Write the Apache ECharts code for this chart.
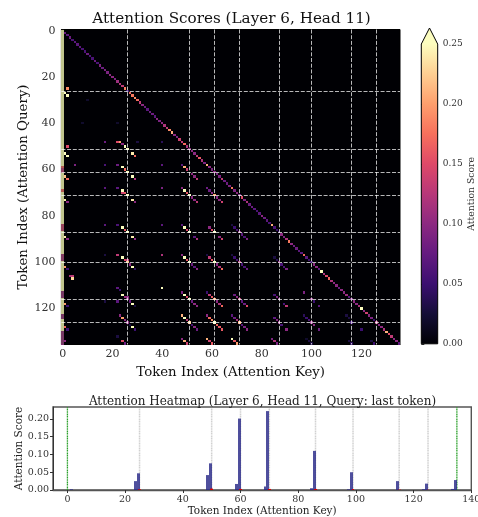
<!DOCTYPE html>
<html>
<head>
<meta charset="utf-8">
<style>
  html, body { margin: 0; padding: 0; background: #fff; }
  #chart { width: 478px; height: 517px; }
</style>
<script src="https://cdn.jsdelivr.net/npm/echarts@6/dist/echarts.min.js"></script>
</head>
<body>
<div id="chart"></div>
<script>
// separators in the heatmap, the bar chart has them one token earlier
const separators = [26, 51, 61, 71, 87, 100, 116, 126];
const barSeparators = [25, 50, 60, 70, 86, 99, 115, 125];
const barMarkers = [0, 135];

// attention of each token on itself
const diagonal = [
  .10, .08, .07, .08, .06, .07, .07, .07, .06, .06,
  .08, .06, .06, .08, .06, .09, .08, .09, .09, .10,
  .10, .09, .11, .12, .13, .18, .05, .17, .18, .19,
  .17, .13, .10, .08, .07, .08, .08, .07, .10, .09,
  .10, .12, .13, .19, .21, .10, .09, .14, .13, .17,
  .12, .10, .10, .10, .13, .16, .12, .09, .21, .10,
  .09, .10, .09, .09, .13, .08, .08, .09, .18, .09,
  .10, .09, .15, .09, .12, .08, .08, .07, .06, .07,
  .10, .08, .07, .06, .21, .06, .05, .05, .10, .09,
  .12, .18, .10, .08, .08, .07, .07, .17, .07, .05,
  .05, .10, .10, .07, .25, .12, .15, .17, .12, .10,
  .10, .08, .10, .10, .11, .07, .09, .10, .10, .12,
  .25, .10, .14, .10, .09, .05, .12, .10, .10, .12,
  .21, .15, .13, .10, .10, .07
];

// first column as [fromRow, toRow, value]
const firstColumn = [
  [0, 58, .25], [59, 59, .16], [60, 61, .12], [62, 68, .25], [69, 69, .16],
  [70, 83, .25], [84, 86, .13], [87, 96, .25], [97, 99, .11], [100, 112, .25],
  [113, 115, .10], [116, 122, .25], [123, 124, .10], [125, 129, .25], [130, 135, .10]
];

// off diagonal cells as [key, query, value], grouped by query rows
const rows25to29 = [[2, 25, .19], [1, 27, .25], [2, 28, .25], [10, 30, .02], [8, 40, .02], [22, 40, .02]];
const rows48to54 = [
  [17, 48, .08], [22, 48, .15], [23, 48, .2], [24, 49, .1], [25, 50, .25], [26, 51, .25],
  [28, 53, .24], [29, 54, .17], [2, 50, .15], [1, 53, .25], [2, 54, .25], [40, 48, .04], [30, 48, .03]
];
const rows58to64 = [
  [5, 58, .09], [17, 58, .06], [22, 58, .08], [40, 58, .07], [24, 59, .25], [25, 60, .17], [26, 61, .25],
  [28, 63, .25], [29, 64, .12], [1, 63, .22], [2, 64, .17],
  [48, 58, .07], [49, 59, .21], [50, 60, .14], [52, 62, .1], [53, 63, .1], [54, 64, .13]
];
const rows68to74 = [
  [17, 68, .07], [22, 68, .07], [40, 68, .09], [24, 69, .25], [25, 70, .16], [24, 70, .14], [26, 71, .25],
  [28, 73, .24], [29, 74, .1], [1, 73, .24], [2, 74, .1],
  [48, 68, .1], [49, 69, .25], [50, 70, .16], [51, 71, .25], [52, 72, .1], [53, 73, .1], [54, 74, .13],
  [58, 68, .08], [59, 69, .08], [60, 70, .1], [61, 71, .2], [62, 72, .1], [63, 73, .1], [64, 74, .14]
];
const rows84to90 = [
  [17, 84, .07], [22, 84, .06], [40, 84, .07], [24, 85, .25], [25, 86, .16], [26, 87, .25],
  [28, 89, .24], [29, 90, .1], [1, 89, .24], [2, 90, .1],
  [48, 84, .07], [49, 85, .25], [50, 86, .15], [51, 87, .25], [53, 89, .07], [54, 90, .12],
  [59, 85, .1], [60, 86, .15], [61, 87, .25], [63, 89, .1], [64, 90, .14],
  [68, 84, .03], [69, 85, .05], [70, 86, .06], [71, 87, .1], [72, 88, .07], [73, 89, .06], [74, 90, .09]
];
const rows97to103 = [
  [17, 97, .03], [22, 97, .13], [40, 97, .12], [24, 98, .25], [25, 99, .15], [26, 99, .13], [26, 100, .22],
  [27, 101, .1], [28, 102, .25], [29, 103, .04], [1, 102, .2], [2, 103, .05],
  [48, 97, .1], [49, 98, .25], [50, 99, .16], [51, 100, .25], [52, 101, .08], [53, 102, .07], [54, 103, .1],
  [58, 97, .03], [59, 98, .13], [60, 99, .16], [61, 100, .25], [62, 101, .1], [63, 102, .12], [64, 103, .17],
  [68, 97, .03], [69, 98, .05], [70, 99, .06], [71, 100, .12], [72, 101, .06], [73, 102, .06], [74, 103, .08],
  [85, 98, .03], [86, 99, .04], [87, 100, .1], [88, 101, .06], [89, 102, .06], [90, 103, .09]
];
const rows106to107 = [[3, 106, .12], [4, 106, .13], [4, 107, .23]];
const rows111to119 = [
  [40, 111, .25], [22, 111, .07], [23, 112, .05], [24, 114, .25], [25, 115, .11], [26, 115, .1], [26, 116, .1],
  [27, 117, .08], [28, 118, .25], [29, 119, .03], [1, 118, .2], [2, 119, .05], [17, 117, .03], [22, 117, .07],
  [48, 113, .09], [49, 114, .25], [50, 115, .15], [51, 116, .25], [52, 117, .08], [53, 118, .1], [54, 119, .1],
  [58, 113, .05], [59, 114, .13], [60, 115, .16], [61, 116, .2], [62, 117, .1], [63, 118, .12], [64, 119, .17],
  [69, 114, .08], [70, 115, .1], [71, 116, .13], [72, 117, .07], [73, 118, .08], [74, 119, .15],
  [85, 114, .06], [86, 115, .09], [87, 116, .1], [89, 118, .06], [90, 119, .13],
  [97, 113, .09], [100, 116, .1], [101, 117, .05], [103, 119, .07]
];
const rows123to129 = [
  [23, 123, .1], [24, 124, .2], [25, 125, .1], [26, 126, .1], [27, 127, .03], [28, 128, .25], [29, 129, .05],
  [1, 128, .17], [2, 129, .05],
  [48, 123, .21], [49, 124, .25], [50, 125, .13], [51, 126, .22], [52, 127, .06], [53, 128, .1], [54, 129, .08],
  [58, 123, .1], [59, 124, .17], [60, 125, .19], [61, 126, .25], [62, 127, .17], [63, 128, .16], [64, 129, .16],
  [68, 123, .07], [69, 124, .08], [70, 125, .12], [71, 126, .2], [72, 127, .07], [73, 128, .09], [74, 129, .1],
  [85, 124, .07], [86, 125, .1], [87, 126, .1], [88, 127, .06], [90, 129, .1],
  [97, 123, .04], [98, 124, .05], [99, 125, .06], [100, 126, .1], [101, 127, .1], [103, 129, .08],
  [114, 123, .03], [115, 124, .03], [116, 126, .05], [120, 129, .05]
];
const rows132to135 = [
  [22, 132, .03], [24, 134, .15], [25, 135, .08], [1, 134, .1],
  [48, 133, .1], [49, 134, .21], [50, 135, .14],
  [58, 133, .21], [59, 134, .14], [60, 135, .16],
  [68, 133, .25], [69, 134, .16], [70, 135, .2],
  [84, 133, .09], [85, 134, .12], [86, 135, .09],
  [98, 133, .02], [99, 134, .03], [100, 135, .03],
  [115, 134, .03], [116, 135, .04], [124, 134, .03], [125, 135, .05]
];

// last row of the attention, shown as bars
const lastTokenScores = [
  [1, .002], [23, .025], [24, .047], [48, .042], [49, .075], [58, .017], [59, .201],
  [68, .01], [69, .222], [84, .005], [85, .11], [97, .002], [98, .05], [114, .025],
  [123, .002], [124, .018], [133, .003], [134, .028]
];
const separatorScores = [[25, .002], [50, .004], [60, .003], [70, .003], [86, .003], [99, .003], [115, .001], [125, .001]];

const magma = ['#000004', '#140e36', '#3b0f70', '#641a80', '#8c2981', '#b73779', '#de4968', '#f7705c', '#fe9f6d', '#fecf92', '#fcfdbf'];
const heatTicks = [0, 20, 40, 60, 80, 100, 120];
const colorbarTicks = [0, .05, .1, .15, .2, .25];
const barXTicks = [0, 20, 40, 60, 80, 100, 120, 140];
const barYTicks = [0, .05, .1, .15, .2];

const font = '"DejaVu Serif"';
const tokenCount = diagonal.length;
const tokens = [];
for (let i = 0; i < tokenCount; i++) tokens.push(String(i));

let cells = [];
diagonal.forEach((v, i) => { if (i > 0) cells.push([i, i, v]); });
firstColumn.forEach(r => {
  for (let y = r[0]; y <= r[1]; y++) cells.push([0, y, r[2]]);
});
cells = cells.concat(rows25to29, rows48to54, rows58to64, rows68to74, rows84to90,
  rows97to103, rows106to107, rows111to119, rows123to129, rows132to135);

const showTick = (i) => heatTicks.indexOf(i) >= 0;
const sepLine = { color: 'rgba(255,255,255,0.72)', width: 1, type: [4, 1.7] };

const heatLines = [];
separators.forEach(s => {
  heatLines.push({ xAxis: s, lineStyle: sepLine });
  heatLines.push({ yAxis: s, lineStyle: sepLine });
});

const barTop = 0.2335;
const colorbarTip = 0.2634;

// cell edges snapped to whole pixels like a nearest neighbour image
const renderCell = (params, api) => {
  const c = api.coord([api.value(0), api.value(1)]);
  const s = api.size([1, 1]);
  const x0 = Math.round(c[0] - s[0] / 2), x1 = Math.round(c[0] + s[0] / 2);
  const y0 = Math.round(c[1] - s[1] / 2), y1 = Math.round(c[1] + s[1] / 2);
  return {
    type: 'rect',
    shape: { x: x0, y: y0, width: x1 - x0, height: y1 - y0 },
    style: { fill: api.visual('color') }
  };
};

// pale stripe over the whole first column
const renderColumnTint = (params, api) => {
  const c = api.coord([api.value(0), 0]);
  const s = api.size([1, 1]);
  const x0 = Math.round(c[0] - s[0] / 2), x1 = Math.round(c[0] + s[0] / 2);
  return {
    type: 'rect',
    shape: { x: x0, y: params.coordSys.y, width: x1 - x0, height: params.coordSys.height },
    style: { fill: 'rgba(80,90,50,0.35)' }
  };
};

const renderBar = (offset, fill) => (params, api) => {
  const p0 = api.coord([api.value(0) + offset, 0]);
  const p1 = api.coord([api.value(0) + offset + 1, api.value(1)]);
  const x0 = Math.round(p0[0]), x1 = Math.round(p1[0]);
  return {
    type: 'rect',
    shape: { x: x0, y: p1[1], width: x1 - x0, height: p0[1] - p1[1] },
    style: { fill: fill }
  };
};

const renderGuide = (stroke, width) => (params, api) => {
  const a = api.coord([api.value(0), 0]);
  const b = api.coord([api.value(0), barTop]);
  return {
    type: 'line',
    shape: { x1: a[0], y1: a[1], x2: b[0], y2: b[1] },
    style: { stroke: stroke, lineWidth: width, lineDash: [1.2, 0.5] }
  };
};

const option = {
  animation: false,
  backgroundColor: '#fff',
  textStyle: { fontFamily: font },
  title: [
    { text: 'Attention Scores (Layer 6, Head 11)', left: 226.5, top: 7, textAlign: 'center',
      textStyle: { fontFamily: font, fontSize: 15.2, fontWeight: 'normal', color: '#111' } },
    { text: 'Attention Heatmap (Layer 6, Head 11, Query: last token)', left: 257.5, top: 391, textAlign: 'center',
      textStyle: { fontFamily: font, fontSize: 12, fontWeight: 'normal', color: '#222' } }
  ],
  grid: [
    { left: 61.4, top: 29.5, width: 338.6, height: 315, show: true, backgroundColor: '#000004', borderColor: '#000', borderWidth: 1, outerBoundsMode: 'none' },
    { left: 421.3, top: 28, width: 16.4, height: 315.8, outerBoundsMode: 'none' },
    { left: 53, top: 407, width: 418.3, height: 83, show: true, borderColor: '#555', borderWidth: 1.4, outerBoundsMode: 'none' }
  ],
  visualMap: {
    show: false, type: 'continuous', seriesIndex: 0, dimension: 2, min: 0, max: 0.25,
    inRange: { color: magma }
  },
  xAxis: [
    { gridIndex: 0, type: 'category', data: tokens, position: 'bottom',
      name: 'Token Index (Attention Key)', nameLocation: 'middle', nameGap: 22,
      nameTextStyle: { fontFamily: font, fontSize: 13.3, color: '#111' },
      axisLine: { lineStyle: { color: '#000' } },
      axisTick: { alignWithLabel: true, interval: showTick, length: 3.5, lineStyle: { color: '#222' } },
      axisLabel: { interval: showTick, fontFamily: font, fontSize: 11, color: '#333', margin: 4 },
      splitLine: { show: false } },
    { gridIndex: 1, type: 'value', min: 0, max: 1, show: false },
    { gridIndex: 2, type: 'value', min: -5, max: 140,
      name: 'Token Index (Attention Key)', nameLocation: 'middle', nameGap: 16,
      nameTextStyle: { fontFamily: font, fontSize: 10.5, color: '#222' },
      axisLine: { onZero: false, lineStyle: { color: '#555', width: 1.4 } },
      axisTick: { customValues: barXTicks, length: 3, lineStyle: { color: '#333' } },
      axisLabel: { customValues: barXTicks, fontFamily: font, fontSize: 9.5, color: '#333', margin: 5 },
      splitLine: { show: false } }
  ],
  yAxis: [
    { gridIndex: 0, type: 'category', data: tokens, inverse: true,
      name: 'Token Index (Attention Query)', nameLocation: 'middle', nameGap: 31, nameMoveOverlap: false,
      nameTextStyle: { fontFamily: font, fontSize: 13.3, color: '#111' },
      axisLine: { lineStyle: { color: '#000' } },
      axisTick: { alignWithLabel: true, interval: showTick, length: 3.5, lineStyle: { color: '#222' } },
      axisLabel: { interval: showTick, fontFamily: font, fontSize: 11, color: '#333', margin: 6 },
      splitLine: { show: false } },
    { gridIndex: 1, type: 'value', min: 0, max: colorbarTip, position: 'right',
      name: 'Attention Score', nameLocation: 'middle', nameGap: 34, nameRotate: 90,
      nameTextStyle: { fontFamily: font, fontSize: 9.3, color: '#333', verticalAlign: 'middle', padding: [0, 16, 0, 0] },
      axisLine: { show: false },
      axisTick: { show: true, customValues: colorbarTicks, length: 3, lineStyle: { color: '#333' } },
      axisLabel: { customValues: colorbarTicks, formatter: v => v.toFixed(2), fontFamily: font, fontSize: 9, color: '#333', margin: 5 },
      splitLine: { show: false } },
    { gridIndex: 2, type: 'value', min: 0, max: barTop,
      name: 'Attention Score', nameLocation: 'middle', nameGap: 28, nameMoveOverlap: false,
      nameTextStyle: { fontFamily: font, fontSize: 10.5, color: '#222' },
      axisLine: { show: true, onZero: false, lineStyle: { color: '#333', width: 1 } },
      axisTick: { show: true, customValues: barYTicks, length: 3, lineStyle: { color: '#333' } },
      axisLabel: { customValues: barYTicks, formatter: v => v.toFixed(2), fontFamily: font, fontSize: 9.5, color: '#333', margin: 4 },
      splitLine: { show: false } }
  ],
  series: [
    { type: 'custom', xAxisIndex: 0, yAxisIndex: 0, data: cells, silent: true, renderItem: renderCell,
      encode: { x: 0, y: 1 },
      markLine: { silent: true, symbol: 'none', label: { show: false }, animation: false, data: heatLines } },
    { type: 'custom', xAxisIndex: 0, yAxisIndex: 0, data: [[0, 0]], silent: true, z: 3, renderItem: renderColumnTint,
      encode: { x: 0, y: 1 } },
    { type: 'custom', xAxisIndex: 1, yAxisIndex: 1, data: [[0, 0]], silent: true,
      renderItem: (params, api) => {
        const l0 = api.coord([0, 0]), r0 = api.coord([1, 0]);
        const l1 = api.coord([0, 0.25]), r1 = api.coord([1, 0.25]);
        const tip = api.coord([0.5, colorbarTip]);
        const stops = magma.map((c, i) => ({ offset: (i / (magma.length - 1)) * 0.25 / colorbarTip, color: c }));
        stops.push({ offset: 1, color: magma[magma.length - 1] });
        return {
          type: 'polygon',
          shape: { points: [l0, r0, r1, tip, l1] },
          style: { fill: new echarts.graphic.LinearGradient(0, 1, 0, 0, stops), stroke: '#000', lineWidth: 1 }
        };
      } },
    { type: 'custom', xAxisIndex: 2, yAxisIndex: 2, data: barSeparators.map(s => [s, 0]), silent: true, z: 2,
      encode: { x: 0, y: 1 },
      renderItem: renderGuide('rgba(140,140,140,0.4)', 1.5) },
    { type: 'custom', xAxisIndex: 2, yAxisIndex: 2, data: barMarkers.map(s => [s, 0]), silent: true, z: 2,
      encode: { x: 0, y: 1 },
      renderItem: renderGuide('#2ca02c', 1.3) },
    // bars sit on the right of their token, separator bars are centred on it
    { type: 'custom', xAxisIndex: 2, yAxisIndex: 2, data: lastTokenScores, silent: true, z: 3,
      encode: { x: 0, y: 1 },
      renderItem: renderBar(0, 'rgba(40,40,135,0.82)') },
    { type: 'custom', xAxisIndex: 2, yAxisIndex: 2, data: separatorScores, silent: true, z: 4,
      encode: { x: 0, y: 1 },
      renderItem: renderBar(-0.5, '#d40000') }
  ]
};

const chart = echarts.init(document.getElementById('chart'), null, { renderer: 'canvas' });
chart.setOption(option);
</script>
</body>
</html>
